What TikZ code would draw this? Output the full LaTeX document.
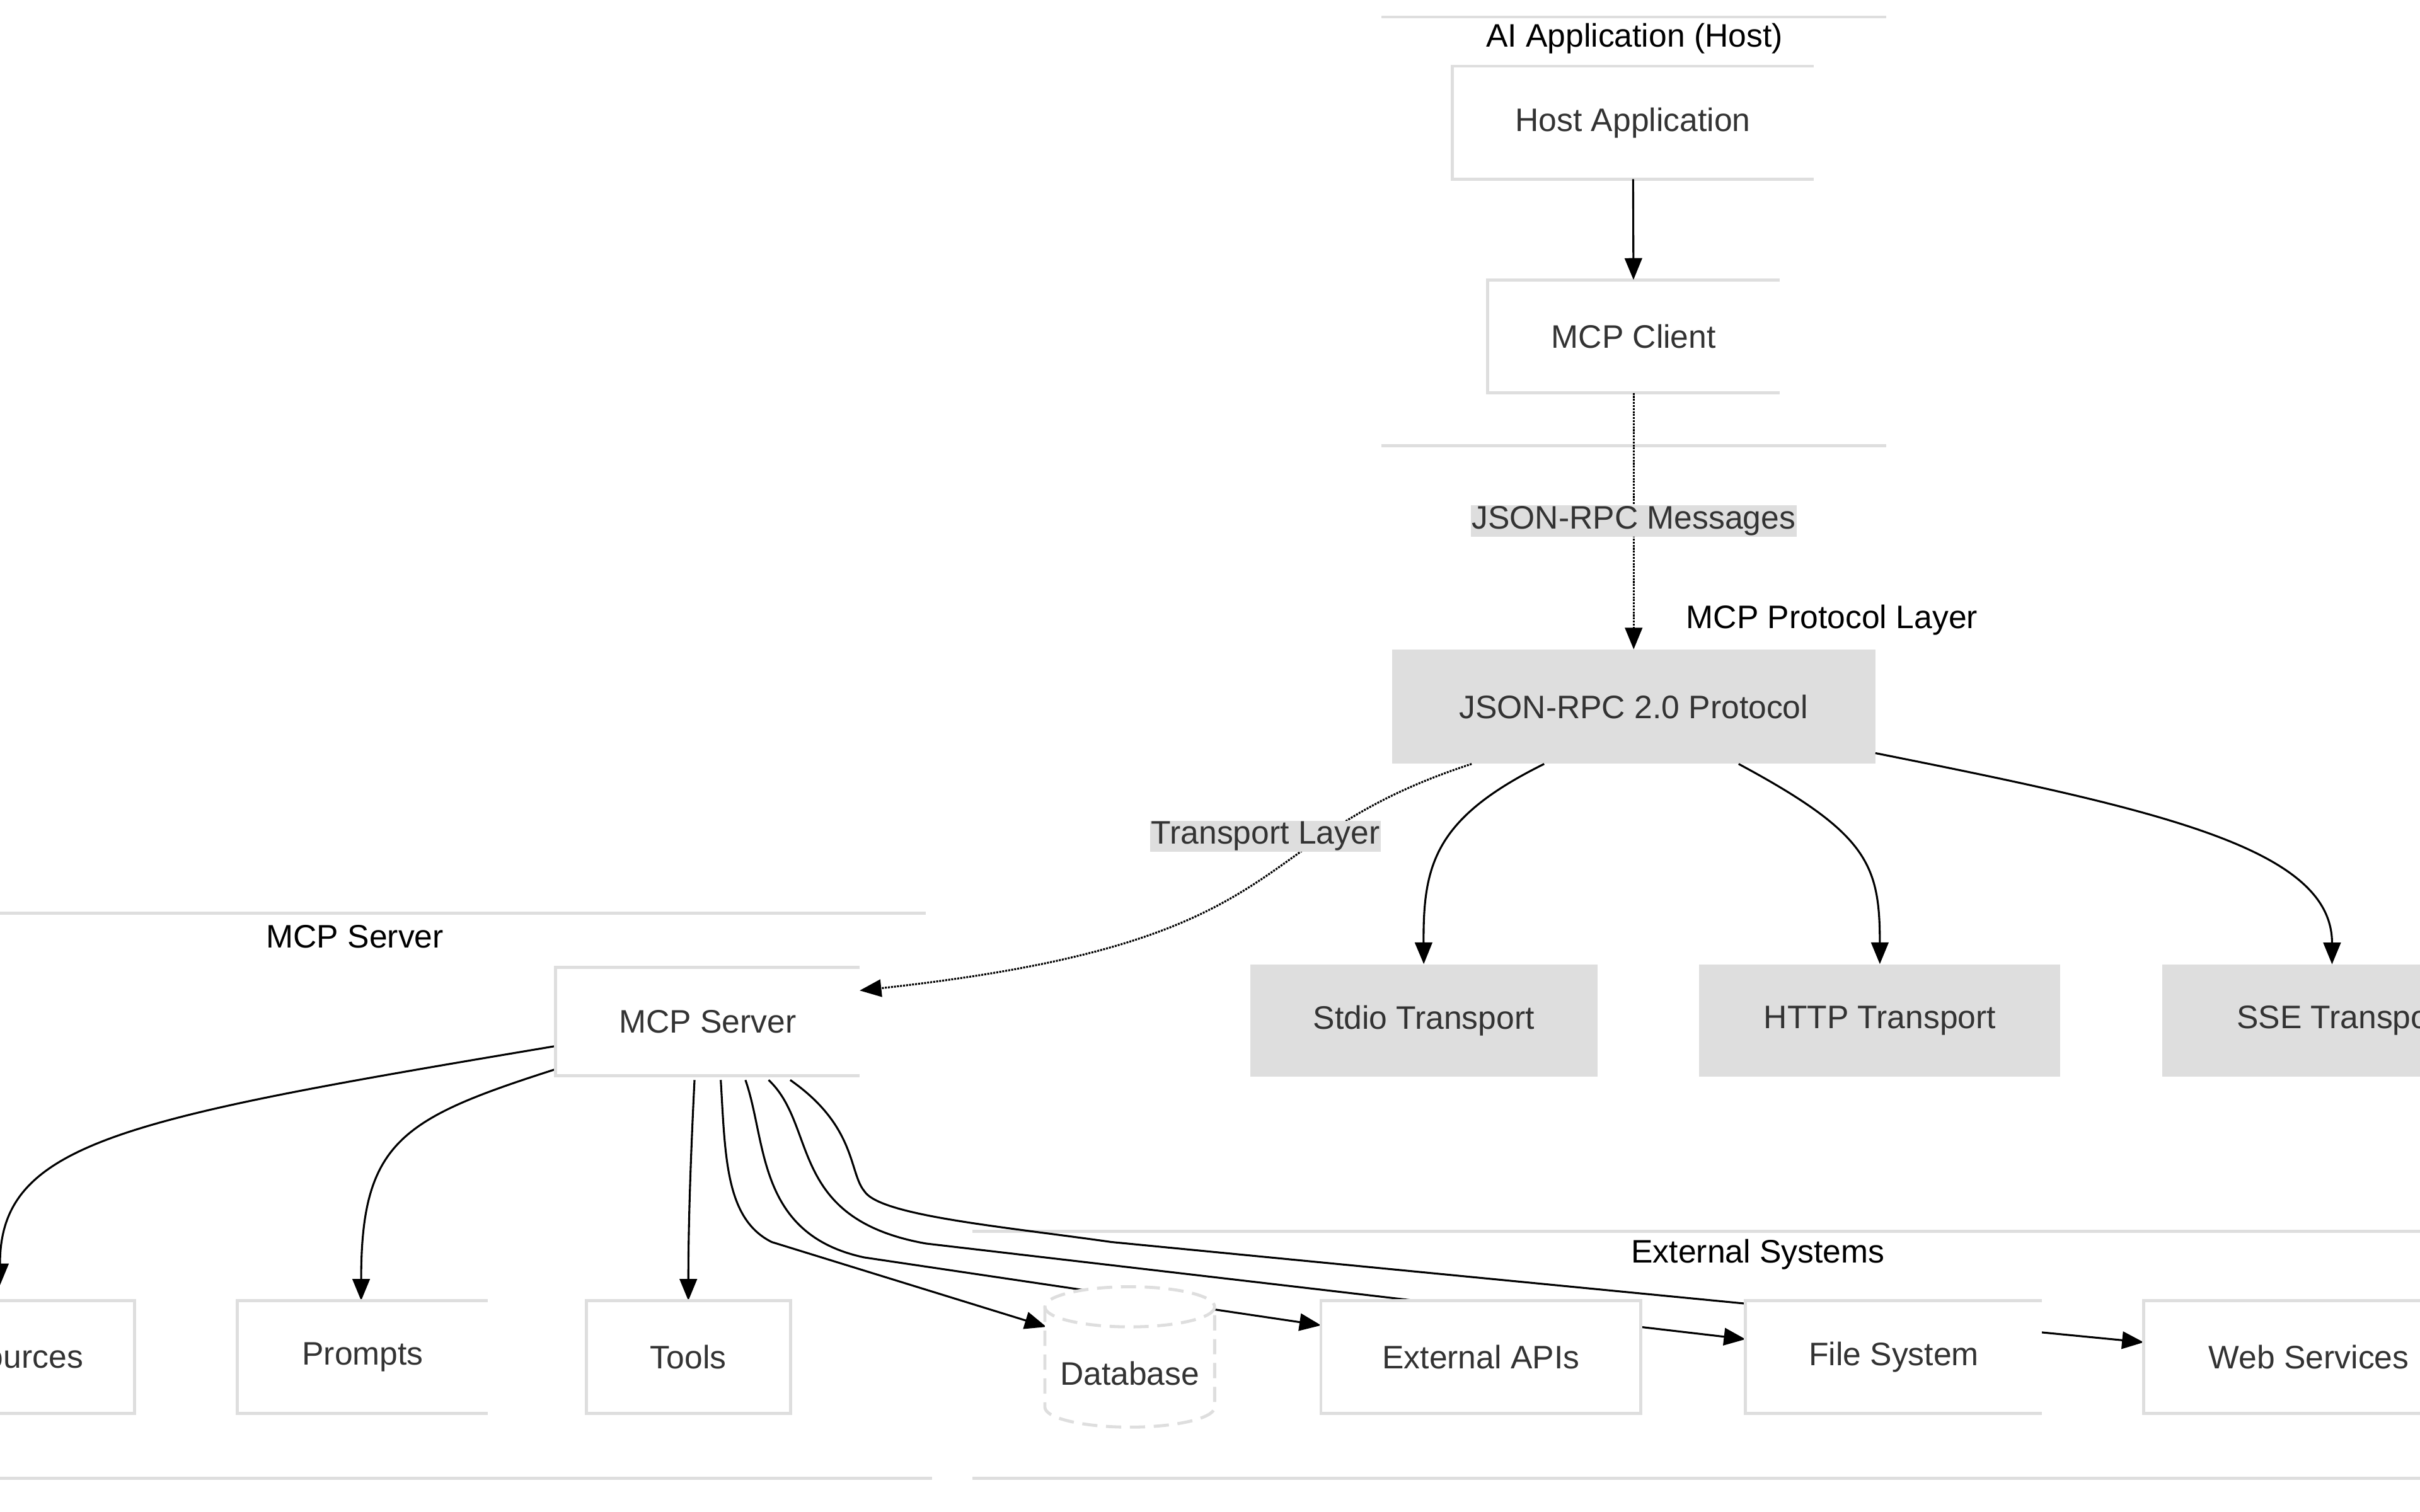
\documentclass[tikz,border=0pt]{standalone}
\usepackage{fontspec}
\setmainfont{Liberation Sans}
\usetikzlibrary{shapes.geometric,arrows.meta}
\definecolor{bd}{HTML}{DEDEDE}
\definecolor{tx}{HTML}{333333}
\begin{document}
\begin{tikzpicture}[x=0.05cm,y=-0.05cm,
  every node/.style={font=\fontsize{30}{36}\selectfont},
  box/.style={fill=white,inner sep=0pt,text=tx},
  gbox/.style={fill=bd,inner sep=0pt,text=tx},
  bdr/.style={draw=bd,line width=2.8pt},
  ln/.style={line width=1.8pt},
  arr/.style={ln,-{Triangle[length=20pt,width=16pt]}},
  dot/.style={ln,densely dotted},
  lab/.style={fill=bd,inner sep=1pt,text=tx}]
\useasboundingbox (0,0) rectangle (1568,980);
\clip (0,0) rectangle (1568,980);
\fill[white] (0,0) rectangle (1568,980);
% subgraph lines
\draw[bdr] (895,11)--(1222,11) (895,289)--(1222,289);
\node (tA) at (1059,25) {AI Application (Host)};
\node (tP) at (1187,402) {MCP Protocol Layer};
\draw[bdr] (0,592)--(600,592) (0,958)--(604,958);
\node (tS) at (230,607) {MCP Server};
\draw[bdr] (630,798)--(1568,798) (630,958)--(1568,958);
\node (tE) at (1139,813) {External Systems};
% connectors from server drawn first (behind boxes)
\coordinate (s1) at (360,678);
\coordinate (s2) at (360,693);
\coordinate (s3) at (450,700);
\coordinate (s4) at (467,700);
\coordinate (s5) at (483,700);
\coordinate (s6) at (498,700);
\coordinate (s7) at (512,700);
\coordinate (eR) at (0,833);
\coordinate (eP) at (234,843);
\coordinate (eT) at (446,843);
\coordinate (eD) at (678,860);
\coordinate (eA) at (856,859);
\coordinate (eF) at (1131,868);
\coordinate (eW) at (1389,870);
\draw[arr] (s1) .. controls (80,725) and (0,740) .. (eR);
\draw[arr] (s2) .. controls (260,725) and (234,740) .. (eP);
\draw[arr] (s3) .. controls (447,760) and (446,800) .. (eT);
\draw[arr] (s4) .. controls (470,750) and (470,790) .. (500,805) -- (eD);
\draw[arr] (s5) .. controls (497,740) and (490,800) .. (560,815) -- (eA);
\draw[arr] (s6) .. controls (530,730) and (510,790) .. (600,806) -- (eF);
\draw[arr] (s7) .. controls (555,730) and (550,760) .. (560,772) .. controls (570,788) and (650,795) .. (720,805) -- (eW);
% nodes
\node[box,minimum width=234*0.05cm,minimum height=73*0.05cm] (host) at (1058,79.5) {Host Application};
\node[box,minimum width=189*0.05cm,minimum height=73*0.05cm] (client) at (1058.5,218) {MCP Client};
\node[gbox,minimum width=313*0.05cm,minimum height=74*0.05cm] (proto) at (1058.5,458) {JSON-RPC 2.0 Protocol};
\node[gbox,minimum width=225*0.05cm,minimum height=73*0.05cm] (stdio) at (922.5,661.5) {Stdio Transport};
\node[gbox,minimum width=234*0.05cm,minimum height=73*0.05cm] (http) at (1218,661.5) {HTTP Transport};
\node[gbox,minimum width=234*0.05cm,minimum height=73*0.05cm] (sse) at (1518,661.5) {SSE Transport};
\node[box,minimum width=197*0.05cm,minimum height=70*0.05cm] (server) at (458.5,662) {MCP Server};
\node[box,minimum width=167*0.05cm,minimum height=73*0.05cm] (res) at (3.5,879.5) {Resources};
\node[box,minimum width=162*0.05cm,minimum height=73*0.05cm] (prompts) at (235,879.5) {Prompts};
\node[box,minimum width=132*0.05cm,minimum height=73*0.05cm] (tools) at (446,879.5) {Tools};
\node[box,minimum width=207*0.05cm,minimum height=73*0.05cm] (api) at (959.5,879.5) {External APIs};
\node[box,minimum width=192*0.05cm,minimum height=73*0.05cm] (fs) at (1227,879.5) {File System};
\node[box,minimum width=214*0.05cm,minimum height=73*0.05cm] (web) at (1496,879.5) {Web Services};
% database cylinder
\fill[white] (677,847) rectangle (787,912);
\fill[white] (732,847) ellipse [x radius=55, y radius=13];
\fill[white] (732,912) ellipse [x radius=55, y radius=13];
\draw[bdr,dash pattern=on 14pt off 8pt] (732,847) ellipse [x radius=55, y radius=13];
\draw[bdr,dash pattern=on 14pt off 8pt] (677,847) -- (677,912) arc[start angle=180,end angle=360,x radius=55,y radius=-13] -- (787,847);
\node[text=tx,inner sep=0pt] (db) at (732,890) {Database};
% borders (open right edges like the reference)
\foreach \n in {host,client,server,prompts,fs,web}{
  \draw[bdr] (\n.north east)--(\n.north west)--(\n.south west)--(\n.south east);}
\foreach \n in {res,tools,api}{\draw[bdr] (\n.south west) rectangle (\n.north east);}
% remaining connectors
\draw[arr] (host) -- (client);
\draw[dot,-{Triangle[length=20pt,width=16pt]}] (client) -- node[lab]{JSON-RPC Messages} (proto);
\draw[arr] ([xshift=-58*0.05cm]proto.south) .. controls (930,530) and (922,560) .. (stdio.north);
\draw[arr] ([xshift=68*0.05cm]proto.south) .. controls (1210,540) and (1218,560) .. (http.north);
\draw[arr] (proto.south east) ++(0,-7) .. controls (1400,525) and (1511,550) .. (1511,625);
\coordinate (srvin) at (557,642);
\draw[dot,-{Triangle[length=20pt,width=16pt]}] ([xshift=-105*0.05cm]proto.south) .. controls (800,545) and (850,610) .. (srvin);
\node[lab] (tl) at (820,542) {Transport Layer};
\end{tikzpicture}
\end{document}
